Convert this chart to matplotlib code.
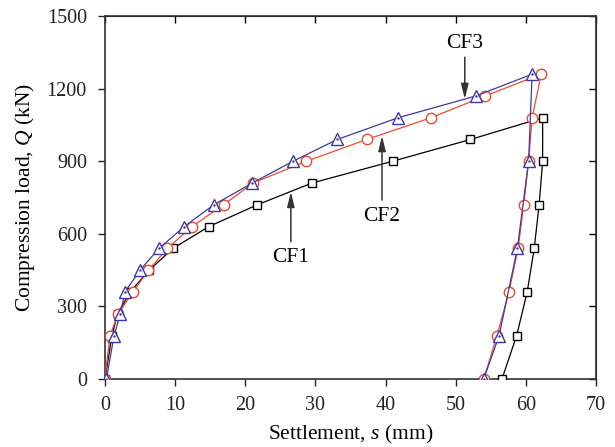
import matplotlib
matplotlib.use("Agg")
from matplotlib import pyplot as plt

# CF1 - carga e descarga
s_cf1 = [0, 1.0, 1.8, 3.6, 6.3, 9.7, 14.8, 21.7, 29.5, 41.0, 52.1, 62.4,
         62.4, 61.9, 61.2, 60.2, 58.7, 56.6]
q_cf1 = [0, 180, 270, 360, 450, 540, 630, 720, 810, 900, 990, 1080,
         900, 720, 540, 360, 180, 0]

# CF2
s_cf2 = [0, 0.7, 1.9, 4.0, 6.2, 8.9, 12.4, 16.9, 21.1, 28.7, 37.3, 46.5, 54.2, 62.2,
         60.9, 60.4, 59.7, 58.9, 57.6, 55.9, 54.0]
q_cf2 = [0, 180, 270, 360, 450, 540, 630, 720, 810, 900, 990, 1080, 1170, 1260,
         1080, 900, 720, 540, 360, 180, 0]

# CF3
s_cf3 = [0.2, 1.3, 2.2, 2.85, 5.0, 7.7, 11.3, 15.5, 21.0, 26.8, 33.1, 41.8, 52.9, 60.9,
         60.4, 58.8, 56.2, 54.0]
q_cf3 = [0, 180, 270, 360, 450, 540, 630, 720, 810, 900, 990, 1080, 1170, 1260,
         900, 540, 180, 0]

x_ticks = [0, 10, 20, 30, 40, 50, 60, 70]
y_ticks = [0, 300, 600, 900, 1200, 1500]

plt.rcParams['font.family'] = ['Liberation Serif', 'DejaVu Serif']
plt.rcParams['mathtext.fontset'] = 'custom'
plt.rcParams['mathtext.it'] = 'Liberation Serif:italic'
plt.rcParams['mathtext.rm'] = 'Liberation Serif'

fig = plt.figure(figsize=(6.15, 4.47), dpi=100)
ax = fig.add_axes([0.1707, 0.152, 0.7983, 0.812])

cor_verm = '#f04a30'
cor_azul = '#3c3a9c'

ax.plot(s_cf1, q_cf1, color='black', lw=0.9, marker='s', markersize=6,
        markerfacecolor='white', markeredgecolor='black', markeredgewidth=1.0, zorder=3)
ax.plot(s_cf2, q_cf2, color=cor_verm, lw=0.9, marker='o', markersize=7.5,
        markerfacecolor='white', markeredgecolor=cor_verm, markeredgewidth=1.0, zorder=4)
ax.plot(s_cf3, q_cf3, color=cor_azul, lw=0.9, marker='^', markersize=8,
        markerfacecolor='white', markeredgecolor=cor_azul, markeredgewidth=1.0, zorder=5)
# pontinho dentro dos triangulos
ax.plot(s_cf3, q_cf3, ls='none', marker='.', markersize=1.5, color=cor_azul, zorder=6)

seta = dict(arrowstyle='-|>,head_length=0.9,head_width=0.22', color='#333333', lw=1.1,
            shrinkA=0, shrinkB=0)
ax.annotate('', xy=(26.5, 774), xytext=(26.5, 567), arrowprops=seta)
ax.text(26.5, 504, 'CF1', ha='center', va='center', fontsize=15.5)
ax.annotate('', xy=(39.5, 1005), xytext=(39.5, 740), arrowprops=seta)
ax.text(39.5, 673, 'CF2', ha='center', va='center', fontsize=15.5)
ax.annotate('', xy=(51.3, 1157), xytext=(51.3, 1330), arrowprops=seta)
ax.text(51.3, 1385, 'CF3', ha='center', va='center', fontsize=15.5)

ax.set_xlim(0, 70)
ax.set_ylim(0, 1500)
ax.set_xticks(x_ticks)
ax.set_yticks(y_ticks)
ax.tick_params(direction='out', length=5, width=1.0, labelsize=14.5, colors='#222222')
ax.tick_params(axis='y', pad=8)
ax.tick_params(axis='x', pad=7)
ax.set_xlabel(r'Settlement, $s$ (mm)', fontsize=15.5, labelpad=6)
ax.set_ylabel(r'Compression load, $Q$ (kN)', fontsize=15.5, labelpad=7)

for lado in ax.spines.values():
    lado.set_linewidth(1.2)
    lado.set_color('#333333')

# ticks internos em cima e na direita
topo = ax.secondary_xaxis('top')
topo.set_xticks(x_ticks)
topo.tick_params(direction='in', length=5, width=1.0, labeltop=False)
direita = ax.secondary_yaxis('right')
direita.set_yticks(y_ticks)
direita.tick_params(direction='in', length=5, width=1.0, labelright=False)

plt.savefig('out.png', dpi=100)
